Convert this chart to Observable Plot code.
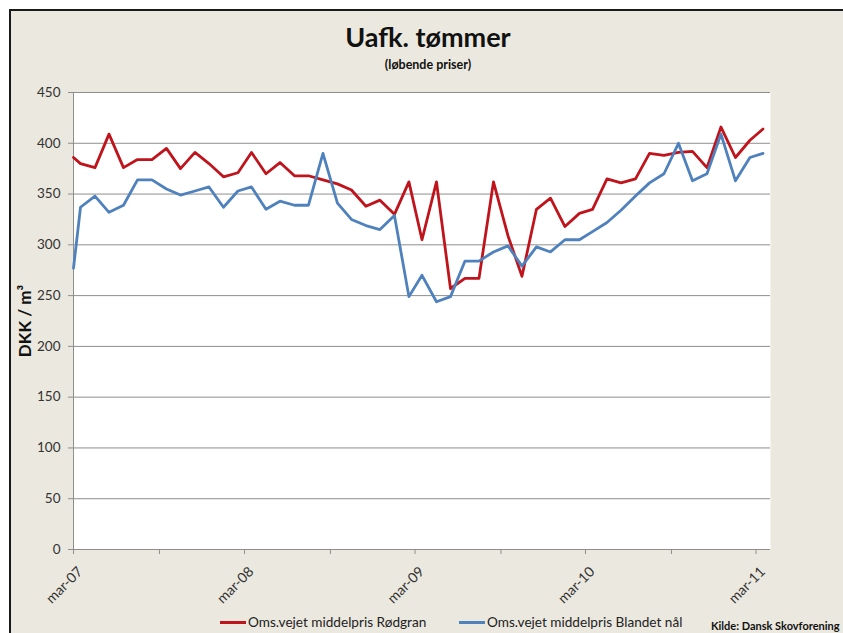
<!DOCTYPE html>
<html>
<head>
<meta charset="utf-8">
<script src="https://cdn.jsdelivr.net/npm/d3@7"></script>
<script src="https://cdn.jsdelivr.net/npm/@observablehq/plot@0.6"></script>
<style>
  html, body { margin: 0; padding: 0; background: #ffffff; }
  body { width: 843px; height: 633px; overflow: hidden; position: relative; font-family: Lato, "Open Sans", sans-serif; }
  #frame { position: absolute; left: 9px; top: 9px; width: 900px; height: 700px; background: #ebe8df; border-left: 2px solid #1a1a1a; border-top: 2px solid #1a1a1a; }
  #chart { position: absolute; left: 0; top: 0; }
  #title { position: absolute; left: 278px; width: 300px; top: 22px; text-align: center; font-weight: bold; font-size: 27px; color: #111; line-height: 30px; }
  #subtitle { position: absolute; left: 328px; width: 200px; top: 57px; text-align: center; font-weight: bold; font-size: 12.5px; color: #111; line-height: 16px; }
  .leg { position: absolute; top: 613px; font-size: 13.6px; color: #222; line-height: 18px; white-space: nowrap; }
  .sw { display: inline-block; width: 26px; height: 3px; vertical-align: middle; margin-right: 2px; position: relative; top: -1px; }
  #source { position: absolute; left: 711px; top: 619px; font-weight: bold; font-size: 11px; color: #111; white-space: nowrap; }
</style>
</head>
<body>
<div id="frame"></div>
<div id="chart"></div>
<div id="title">Uafk. tømmer</div>
<div id="subtitle">(løbende priser)</div>
<div class="leg" id="leg1" style="left:220px"></div>
<div class="leg" id="leg2" style="left:459px"></div>
<div id="source">Kilde: Dansk Skovforening</div>
<script>
// Observation dates (first point at the axis start, then mid-month)
const dates = [
  "2007-03-01","2007-03-16","2007-04-16","2007-05-16","2007-06-16","2007-07-16","2007-08-16","2007-09-16","2007-10-16","2007-11-16","2007-12-16",
  "2008-01-16","2008-02-16","2008-03-16","2008-04-16","2008-05-16","2008-06-16","2008-07-16","2008-08-16","2008-09-16","2008-10-16","2008-11-16","2008-12-16",
  "2009-01-16","2009-02-16","2009-03-16","2009-04-16","2009-05-16","2009-06-16","2009-07-16","2009-08-16","2009-09-16","2009-10-16","2009-11-16","2009-12-16",
  "2010-01-16","2010-02-16","2010-03-16","2010-04-16","2010-05-16","2010-06-16","2010-07-16","2010-08-16","2010-09-16","2010-10-16","2010-11-16","2010-12-16",
  "2011-01-16","2011-02-16","2011-03-16"
];
const rodgran = [
  386, 380, 376, 409, 376, 384, 384, 395, 375, 391, 380,
  367, 371, 391, 370, 381, 368, 368, 364, 360, 354, 338, 344,
  330, 362, 305, 362, 257, 267, 267, 362, 309, 269, 335, 346, 318,
  331, 335, 365, 361, 365, 390, 388, 391, 392, 376, 416,
  386, 403, 414
];
const blandet = [
  277, 337, 348, 332, 339, 364, 364, 355, 349, 353, 357,
  337, 353, 357, 335, 343, 339, 339, 390, 341, 325, 319, 315,
  329, 249, 270, 244, 249, 284, 284, 293, 299, 279, 298, 293, 305,
  305, 313, 322, 334, 348, 361, 370, 400, 363, 370, 409,
  363, 386, 390
];
const seriesNames = ["Oms.vejet middelpris Rødgran", "Oms.vejet middelpris Blandet nål"];
const seriesColors = ["#c0141c", "#4f81bd"];
const yTicks = [0, 50, 100, 150, 200, 250, 300, 350, 400, 450];
const xTickDates = ["2007-03-01","2007-09-01","2008-03-01","2008-09-01","2009-03-01","2009-09-01","2010-03-01","2010-09-01","2011-03-01"];
const xLabelDates = ["2007-03-01","2008-03-01","2009-03-01","2010-03-01","2011-03-01"];
const xLabels = ["mar-07","mar-08","mar-09","mar-10","mar-11"];
const xDomain = ["2007-03-01","2011-04-01"];
const yLabel = "DKK / m³";

const parse = d3.utcParse("%Y-%m-%d");
const data = dates.flatMap((d, i) => [
  {date: parse(d), value: rodgran[i], series: seriesNames[0]},
  {date: parse(d), value: blandet[i], series: seriesNames[1]}
]);
const labelData = xLabelDates.map((d, i) => ({date: parse(d), label: xLabels[i]}));

const axisGray = "#8e8e8e";
const chart = Plot.plot({
  width: 843,
  height: 633,
  marginTop: 92,
  marginBottom: 84,
  marginLeft: 73,
  marginRight: 73,
  style: {background: "transparent", fontFamily: "Lato, 'Open Sans', sans-serif", fontSize: "13px", color: "#333"},
  x: {type: "utc", domain: xDomain.map(parse)},
  y: {domain: [0, 450]},
  color: {domain: seriesNames, range: seriesColors},
  marks: [
    Plot.frame({fill: "white", stroke: null}),
    Plot.gridY(yTicks, {stroke: axisGray, strokeOpacity: 1}),
    Plot.ruleX([parse(xDomain[0])], {stroke: axisGray}),
    Plot.ruleY([0], {stroke: axisGray}),
    Plot.axisY(yTicks, {tickSize: 5, tickPadding: 8, stroke: axisGray, fill: "#333", label: null, fontSize: 13.5}),
    Plot.axisX(xTickDates.map(parse), {tickSize: 5, tickFormat: () => "", stroke: axisGray, label: null}),
    Plot.text(labelData, {x: "date", text: "label", frameAnchor: "bottom", rotate: -45, textAnchor: "end", dx: 10, dy: 23, fontSize: 14, fill: "#333"}),
    Plot.text([yLabel], {text: d => d, frameAnchor: "left", textAnchor: "middle", rotate: -90, dx: -48, fontSize: 17, fontWeight: "bold", fill: "#111"}),
    Plot.line(data, {x: "date", y: "value", stroke: "series", strokeWidth: 2.8, strokeLinejoin: "round"})
  ]
});
document.getElementById("chart").appendChild(chart);

const legs = [document.getElementById("leg1"), document.getElementById("leg2")];
seriesNames.forEach((name, i) => {
  const sw = document.createElement("span");
  sw.className = "sw";
  sw.style.background = seriesColors[i];
  legs[i].appendChild(sw);
  legs[i].appendChild(document.createTextNode(name));
});
</script>
</body>
</html>
